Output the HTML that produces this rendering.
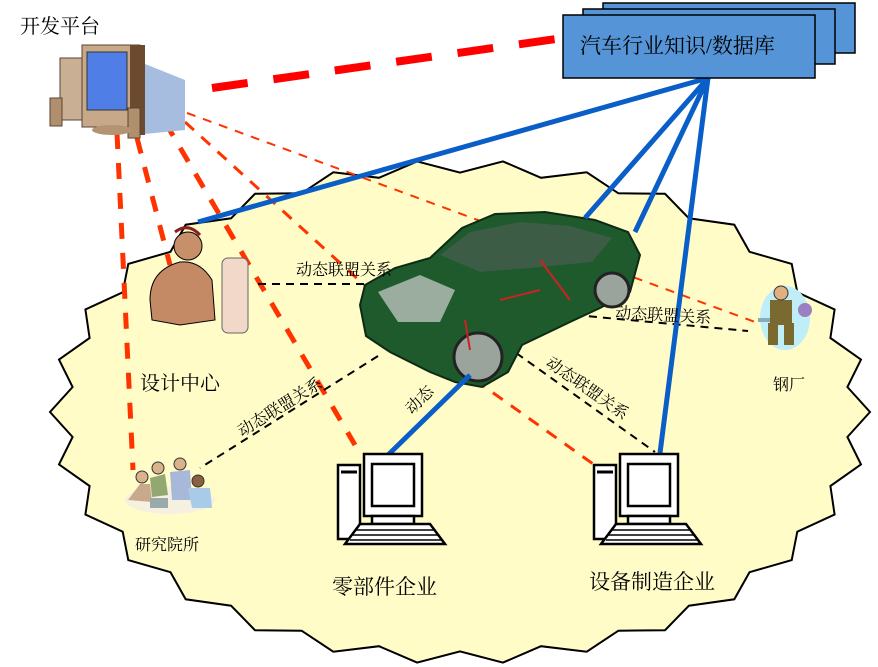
<!DOCTYPE html>
<html><head><meta charset="utf-8">
<style>
html,body{margin:0;padding:0;background:#fff;}
svg{display:block;}
text{font-family:"Liberation Serif","Noto Serif CJK SC","Noto Sans CJK SC",serif;fill:#000;}
</style></head>
<body>
<svg id="s" width="878" height="667" viewBox="0 0 878 667" xmlns="http://www.w3.org/2000/svg">
<ellipse id="fb" cx="460" cy="412" rx="410" ry="252" fill="#fffcc8" stroke="#000" stroke-width="2"/>
<polygon id="blob" points="" fill="#fffcc8" stroke="#000" stroke-width="2"/>

<line x1="212" y1="88" x2="563" y2="38" stroke="#f00" stroke-width="8" stroke-dasharray="36,26"/>

<g stroke="#ff3300" fill="none">
<line x1="117" y1="133" x2="133" y2="470" stroke-width="5" stroke-dasharray="16,14"/>
<line x1="137" y1="138" x2="170" y2="265" stroke-width="5" stroke-dasharray="16,14"/>
<line x1="165" y1="122" x2="355" y2="445" stroke-width="5" stroke-dasharray="16,14"/>
<line x1="185" y1="122" x2="372" y2="292" stroke-width="3" stroke-dasharray="12,10"/>
<line x1="187" y1="113" x2="755" y2="322" stroke-width="2" stroke-dasharray="9,8"/>
<line x1="475" y1="380" x2="610" y2="476" stroke-width="3" stroke-dasharray="12,10"/>
</g>

<g stroke="#000" stroke-width="2" stroke-dasharray="8,6" fill="none">
<line x1="258" y1="284" x2="368" y2="284"/>
<line x1="575" y1="315" x2="748" y2="331"/>
<line x1="505" y1="345" x2="655" y2="452"/>
<line x1="378" y1="356" x2="200" y2="468"/>
<line x1="470" y1="375" x2="400" y2="445"/>
</g>

<g>
<path d="M360,305 L365,285 L395,268 L430,258 L462,228 L495,214 L545,212 L595,220 L628,232 L640,255 L630,292 L600,308 L570,322 L522,345 L508,372 L482,387 L455,382 L430,372 L390,352 L366,336 Z" fill="#1e5a2c" stroke="#0d2a14" stroke-width="2"/>
<path d="M440,255 L470,232 L520,222 L570,226 L612,238 L592,262 L530,268 L480,272 Z" fill="#445c4c" opacity="0.8"/>
<path d="M378,292 L420,275 L455,290 L440,322 L398,322 Z" fill="#b9c2bb" opacity="0.8"/>
<circle cx="478" cy="357" r="24" fill="#9aa39c" stroke="#222" stroke-width="3"/>
<circle cx="612" cy="290" r="17" fill="#9aa39c" stroke="#222" stroke-width="3"/>
<path d="M465,320 l5,30 M500,300 l40,-10 M540,260 l30,40" stroke="#c22" stroke-width="2"/>
</g>

<g stroke="#0a5ec8" stroke-width="5" fill="none">
<line x1="708" y1="78" x2="198" y2="222"/>
<line x1="708" y1="78" x2="585" y2="218"/>
<line x1="708" y1="78" x2="635" y2="232"/>
<line x1="708" y1="78" x2="660" y2="453"/>
<line x1="470" y1="375" x2="388" y2="455"/>
</g>

<g stroke="#000" stroke-width="1.5" fill="#5594d6">
<rect x="603" y="3" width="252" height="50"/>
<rect x="583" y="9" width="252" height="55"/>
<rect x="563" y="15" width="252" height="63"/>
</g>
<text x="580" y="53" font-size="21">汽车行业知识/数据库</text>

<g>
<path d="M130,58 L185,80 L185,130 L135,135 Z" fill="#a6bde0"/>
<rect x="60" y="58" width="22" height="62" fill="#c9b094" stroke="#5a4330"/>
<rect x="82" y="45" width="58" height="82" fill="#c7a888" stroke="#5a4330"/>
<rect x="87" y="52" width="40" height="58" fill="#4f7ee6" stroke="#333"/>
<rect x="130" y="45" width="15" height="90" fill="#6b4a30"/>
<rect x="50" y="98" width="12" height="28" fill="#b08f6f" stroke="#5a4330"/>
<rect x="128" y="108" width="12" height="30" fill="#b08f6f" stroke="#5a4330"/>
<ellipse cx="112" cy="130" rx="20" ry="5" fill="#b49373"/>
</g>
<text x="20" y="33" font-size="20">开发平台</text>

<g>
<path d="M150,300 Q150,270 180,262 Q200,260 212,280 L215,320 L180,325 L152,320 Z" fill="#c48a66" stroke="#000"/>
<circle cx="188" cy="246" r="14" fill="#c8906a" stroke="#000"/>
<path d="M175,232 Q188,222 200,235" stroke="#8b2020" stroke-width="3" fill="none"/>
<rect x="222" y="258" width="26" height="75" rx="6" fill="#f2d8c8" stroke="#666"/>
</g>
<text x="140" y="390" font-size="20">设计中心</text>

<g>
<ellipse cx="170" cy="500" rx="45" ry="14" fill="#f6f0e0"/>
<circle cx="142" cy="477" r="6" fill="#d9b38c" stroke="#333"/>
<circle cx="158" cy="468" r="6" fill="#d9b38c" stroke="#333"/>
<circle cx="180" cy="464" r="6" fill="#d9b38c" stroke="#333"/>
<circle cx="198" cy="481" r="6" fill="#8a6040" stroke="#333"/>
<path d="M128,500 L140,484 L150,484 L152,502 Z" fill="#c9a98b"/>
<path d="M150,478 L165,474 L168,495 L152,497 Z" fill="#93a870"/>
<path d="M170,472 L190,470 L192,500 L172,500 Z" fill="#a8b8d8"/>
<path d="M188,488 L210,488 L212,508 L192,508 Z" fill="#a8cce8"/>
<rect x="150" y="498" width="18" height="10" fill="#9aa"/>
</g>
<text x="135" y="550" font-size="16">研究院所</text>

<g>
<ellipse cx="785" cy="318" rx="25" ry="32" fill="#bfeef8"/>
<rect x="770" y="300" width="22" height="25" fill="#7a6a30"/>
<rect x="768" y="323" width="10" height="22" fill="#7a6a30"/>
<rect x="784" y="323" width="10" height="22" fill="#7a6a30"/>
<circle cx="781" cy="293" r="7" fill="#e0b080" stroke="#333"/>
<circle cx="805" cy="310" r="7" fill="#9a80c0"/>
<rect x="758" y="318" width="12" height="4" fill="#8ab"/>
</g>
<text x="773" y="390" font-size="16">钢厂</text>

<g fill="#fff" stroke="#000" stroke-width="2.5">
<rect x="338" y="465" width="22" height="74"/>
<line x1="341" y1="472" x2="357" y2="472" stroke-width="3"/>
<rect x="364" y="454" width="58" height="62"/>
<rect x="372" y="464" width="42" height="42"/>
<rect x="372" y="516" width="42" height="8"/>
<path d="M360,524 L430,524 L445,544 L345,544 Z"/>
<line x1="355" y1="530" x2="435" y2="530" stroke-width="1.5"/>
<line x1="352" y1="535" x2="438" y2="535" stroke-width="1.5"/>
<line x1="350" y1="540" x2="441" y2="540" stroke-width="1.5"/>
</g>
<g transform="translate(256,0)" fill="#fff" stroke="#000" stroke-width="2.5">
<rect x="338" y="465" width="22" height="74"/>
<line x1="341" y1="472" x2="357" y2="472" stroke-width="3"/>
<rect x="364" y="454" width="58" height="62"/>
<rect x="372" y="464" width="42" height="42"/>
<rect x="372" y="516" width="42" height="8"/>
<path d="M360,524 L430,524 L445,544 L345,544 Z"/>
<line x1="355" y1="530" x2="435" y2="530" stroke-width="1.5"/>
<line x1="352" y1="535" x2="438" y2="535" stroke-width="1.5"/>
<line x1="350" y1="540" x2="441" y2="540" stroke-width="1.5"/>
</g>
<text x="332" y="594" font-size="21">零部件企业</text>
<text x="589" y="589" font-size="21">设备制造企业</text>

<text x="296" y="275" font-size="16">动态联盟关系</text>
<text x="615" y="318" font-size="16" transform="rotate(3 615 318)">动态联盟关系</text>
<text x="545" y="365" font-size="16" transform="rotate(35 545 365)">动态联盟关系</text>
<text x="242" y="437" font-size="16" transform="rotate(-32 242 437)">动态联盟关系</text>
<text x="412" y="415" font-size="16" transform="rotate(-45 412 415)">动态</text>
</svg>
<script>
(function(){
var cx=460,cy=412,rx=410,ry=252,n=30,pts=[];
for(var i=0;i<n*2;i++){
 var a=i/(n*2)*Math.PI*2;
 var r=(i%2==0)?1:0.95;
 pts.push((cx+rx*r*Math.cos(a)).toFixed(1)+","+(cy+ry*r*Math.sin(a)).toFixed(1));
}
document.getElementById('blob').setAttribute('points',pts.join(' '));
document.getElementById('fb').setAttribute('display','none');
})();
</script>
</body></html>
